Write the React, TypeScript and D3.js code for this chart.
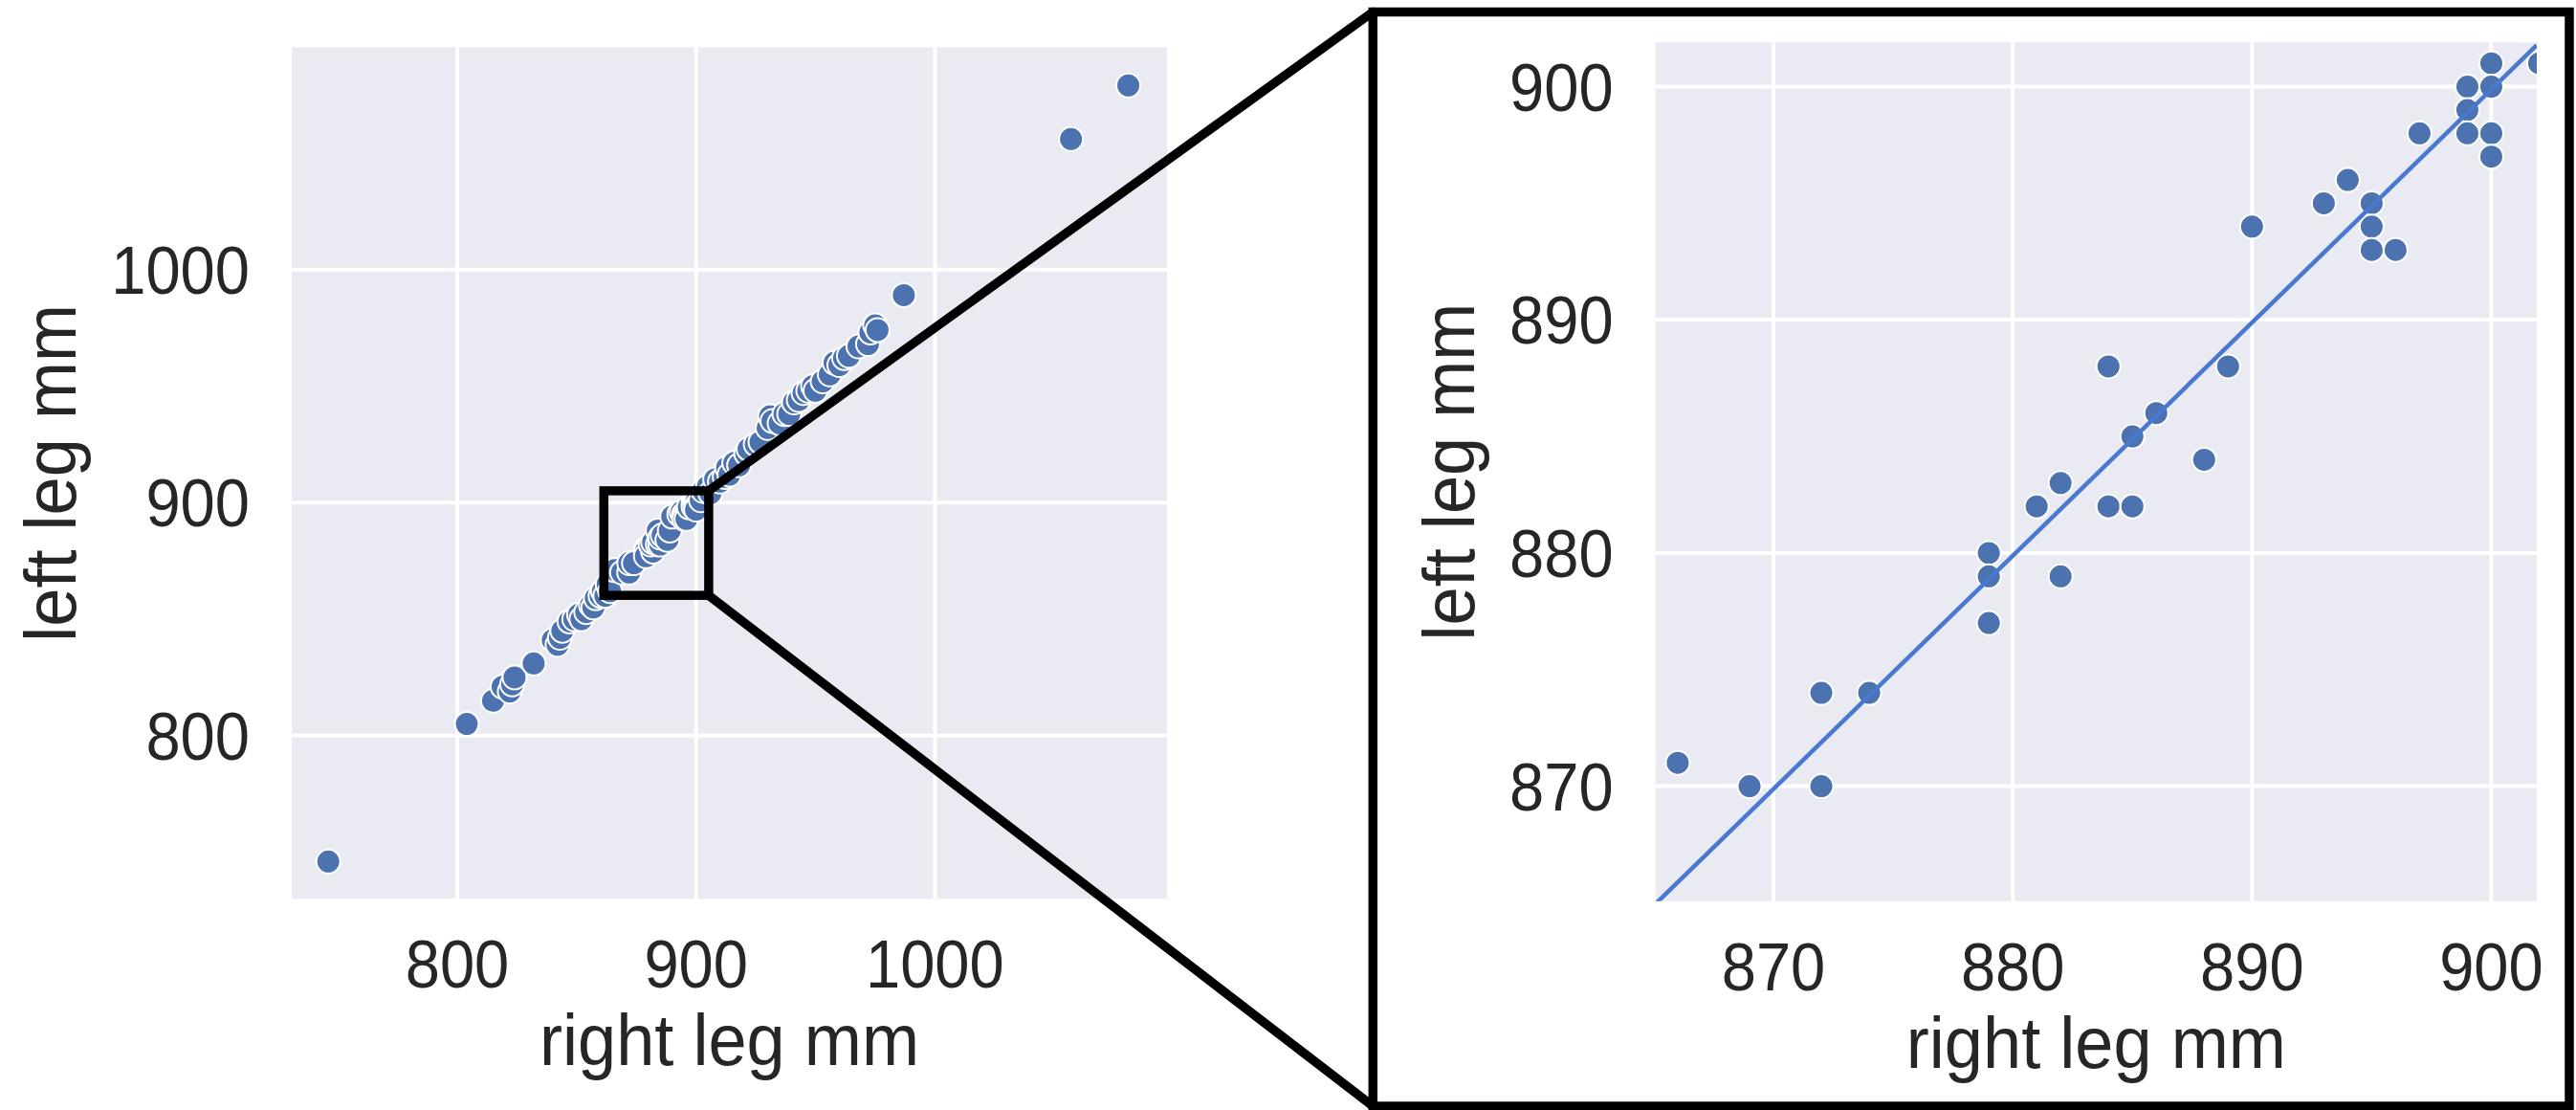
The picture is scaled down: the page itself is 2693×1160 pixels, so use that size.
import React from 'react';
import * as d3 from 'd3';

// ---------- data (right leg mm, left leg mm) ----------
const rightLeg = [
  746, 804, 815, 819, 822, 823, 824, 832, 840, 842, 843, 844, 847, 849, 851, 852, 854, 856, 857, 858, 860, 861, 862, 863, 864,
  866, 869, 872, 872, 874, 879, 879, 879, 882, 881, 882, 884, 885, 884, 885, 886, 888, 889, 890, 893, 894, 895, 895, 895, 896, 897, 899, 899, 899, 900, 900, 900, 900, 902,
  903, 905, 906, 908, 910, 912, 913, 914, 916, 918, 921, 922, 925, 927, 930, 931, 932, 935, 937, 939, 941, 943, 945, 947, 949, 950, 953, 956, 958, 960, 962, 964, 968, 972, 973, 975, 976, 987, 1057, 1081,
];
const leftLeg = [
  746, 805, 815, 821, 819, 822, 825, 831, 841, 839, 842, 845, 849, 850, 852, 850, 853, 856, 855, 859, 860, 862, 860, 865, 862,
  871, 870, 870, 874, 874, 880, 879, 877, 879, 882, 883, 882, 882, 888, 885, 886, 884, 888, 894, 895, 896, 895, 894, 893, 893, 898, 900, 899, 898, 901, 900, 898, 897, 901,
  905, 907, 904, 910, 909, 911, 915, 912, 917, 916, 921, 923, 925, 926, 932, 937, 935, 934, 938, 938, 943, 944, 947, 948, 950, 948, 952, 955, 960, 959, 962, 963, 967, 968, 973, 976, 974, 989, 1056, 1079,
];

const overviewTicks = [800, 900, 1000];
const insetTicks = [870, 880, 890, 900];
const overviewXLim = [730.7, 1097.2];
const overviewYLim = [730.0, 1095.4];
const insetLim = [865.07, 901.9];
const zoomBoxX = [861.4, 905.3];
const zoomBoxY = [860.2, 905.05];
const regSlope = 1.0;
const regIntercept = -0.12;

const xLabel = 'right leg mm';
const yLabel = 'left leg mm';

// ---------- layout ----------
const W = 2693;
const H = 1160;
const LEFT = { x0: 305, x1: 1220, y0: 49.3, y1: 939.3 };
const RIGHT = { x0: 1730.7, x1: 2652, y0: 44.3, y1: 941.7 };
const FRAME = { x0: 1435.3, y0: 12.5, x1: 2686, y1: 1156 };

const FONT = '"Liberation Sans", Arial, Helvetica, sans-serif';
const TEXT = '#262626';
const BG = '#eaeaf2';
const DOT = '#4c72b0';
const LINE = '#4878d0';

type Box = { x0: number; x1: number; y0: number; y1: number };

function Panel({ box, xDomain, yDomain, xTicks, yTicks, clipId, regression, labelX }: {
  box: Box; xDomain: number[]; yDomain: number[]; xTicks: number[]; yTicks: number[];
  clipId: string; regression: boolean; labelX: number;
}) {
  const x = d3.scaleLinear().domain(xDomain).range([box.x0, box.x1]);
  const y = d3.scaleLinear().domain(yDomain).range([box.y1, box.y0]);
  const pts = d3.zip(rightLeg, leftLeg);
  const line = d3.line<number>().x((d) => x(d)).y((d) => y(regSlope * d + regIntercept));
  const cx = (box.x0 + box.x1) / 2;
  const cy = (box.y0 + box.y1) / 2;
  return (
    <g>
      <defs>
        <clipPath id={clipId}>
          <rect x={box.x0} y={box.y0} width={box.x1 - box.x0} height={box.y1 - box.y0} />
        </clipPath>
      </defs>
      <rect x={box.x0} y={box.y0} width={box.x1 - box.x0} height={box.y1 - box.y0} fill={BG} />
      {xTicks.map((t) => (
        <line key={'gx' + t} x1={x(t)} x2={x(t)} y1={box.y0} y2={box.y1} stroke="#fff" strokeWidth={4} />
      ))}
      {yTicks.map((t) => (
        <line key={'gy' + t} y1={y(t)} y2={y(t)} x1={box.x0} x2={box.x1} stroke="#fff" strokeWidth={4} />
      ))}
      <g clipPath={`url(#${clipId})`}>
        {pts.map(([a, b], i) => (
          <circle key={i} cx={x(a)} cy={y(b)} r={12.5} fill={DOT} stroke="#fff" strokeWidth={2} />
        ))}
        {regression && (
          <path d={line(xDomain) || ''} fill="none" stroke={LINE} strokeWidth={4.5} />
        )}
      </g>
      {xTicks.map((t) => (
        <text key={'tx' + t} transform={`translate(${x(t)},${box.y1 + 93}) scale(0.93,1)`}
          textAnchor="middle" fontSize={70} fontFamily={FONT} fill={TEXT}>{t}</text>
      ))}
      {yTicks.map((t) => (
        <text key={'ty' + t} transform={`translate(${box.x0 - 44},${y(t) + 25}) scale(0.93,1)`}
          textAnchor="end" fontSize={70} fontFamily={FONT} fill={TEXT}>{t}</text>
      ))}
      <text transform={`translate(${cx},${box.y1 + 174}) scale(0.95,1)`} textAnchor="middle"
        fontSize={76} fontFamily={FONT} fill={TEXT}>{xLabel}</text>
      <text transform={`translate(${labelX},${cy}) rotate(-90) scale(0.95,1)`} textAnchor="middle"
        fontSize={76} fontFamily={FONT} fill={TEXT}>{yLabel}</text>
    </g>
  );
}

export default function App() {
  const lx = d3.scaleLinear().domain(overviewXLim).range([LEFT.x0, LEFT.x1]);
  const ly = d3.scaleLinear().domain(overviewYLim).range([LEFT.y1, LEFT.y0]);
  const bx0 = lx(zoomBoxX[0]);
  const bx1 = lx(zoomBoxX[1]);
  const by0 = ly(zoomBoxY[1]);
  const by1 = ly(zoomBoxY[0]);
  const lw = 9.5;
  return (
    <svg width={W} height={H} viewBox={`0 0 ${W} ${H}`}
      style={{ position: 'absolute', left: 0, top: 0, background: '#fff' }}>
      <rect x={0} y={0} width={W} height={H} fill="#fff" />
      <Panel box={LEFT} xDomain={overviewXLim} yDomain={overviewYLim} xTicks={overviewTicks}
        yTicks={overviewTicks} clipId="clipL" regression={false} labelX={79} />
      <rect x={bx0} y={by0} width={bx1 - bx0} height={by1 - by0} fill="none" stroke="#000" strokeWidth={lw} />
      <Panel box={RIGHT} xDomain={insetLim} yDomain={insetLim} xTicks={insetTicks}
        yTicks={insetTicks} clipId="clipR" regression={true} labelX={1540.7} />
      <rect x={FRAME.x0} y={FRAME.y0} width={FRAME.x1 - FRAME.x0} height={FRAME.y1 - FRAME.y0}
        fill="none" stroke="#000" strokeWidth={lw} />
      <line x1={bx1} y1={by0} x2={FRAME.x0} y2={FRAME.y0} stroke="#000" strokeWidth={lw} strokeLinecap="round" />
      <line x1={bx1} y1={by1} x2={FRAME.x0} y2={FRAME.y1} stroke="#000" strokeWidth={lw} strokeLinecap="round" />
    </svg>
  );
}
